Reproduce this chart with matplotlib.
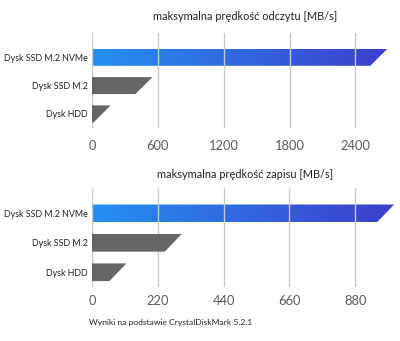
import numpy as np
import matplotlib.pyplot as plt
from matplotlib.patches import Polygon
from matplotlib.colors import LinearSegmentedColormap

plt.rcParams['font.family'] = ['Lato', 'DejaVu Sans']

dyski = ['Dysk SSD M.2 NVMe', 'Dysk SSD M.2', 'Dysk HDD']
odczyt = [2690, 550, 170]
zapis = [1010, 300, 115]
ticks_odczyt = [0, 600, 1200, 1800, 2400]
ticks_zapis = [0, 220, 440, 660, 880]

W, H = 400, 341
fig = plt.figure(figsize=(W / 100, H / 100), dpi=100)

gradient = LinearSegmentedColormap.from_list('nvme', ['#2590f2', '#3d3ecb'])
SLANT = 17  # px, skos na końcu słupka


def wykres(rect, values, ticks, xmax, title, title_y, pad):
    ax = fig.add_axes(rect)
    ax.set_xticks(ticks)
    ax.set_yticks(range(len(values)))
    ax.set_yticklabels(dyski)
    ax.grid(axis='x', color='#c8c8c8', linewidth=1)
    ax.set_axisbelow(True)
    for s in ax.spines.values():
        s.set_visible(False)
    ax.tick_params(length=0)
    ax.tick_params(axis='x', pad=pad, labelsize=9.3, labelcolor='#5a5a5a')
    ax.tick_params(axis='y', pad=3, labelsize=6.4, labelcolor='#222222')

    width_px = rect[2] * W
    skos = SLANT * xmax / width_px
    h = 0.3
    for i, v in enumerate(values):
        pts = [(0, i - h), (v, i - h), (v - skos, i + h), (0, i + h)]
        if i == 0:
            poly = Polygon(pts, closed=True, facecolor='none', edgecolor='none')
            ax.add_patch(poly)
            im = ax.imshow(np.linspace(0, 1, 256).reshape(1, -1), cmap=gradient,
                           extent=[0, v, i + h, i - h], aspect='auto',
                           interpolation='bilinear')
            im.set_clip_path(poly)
        else:
            ax.add_patch(Polygon(pts, closed=True, facecolor='#666666',
                                 edgecolor='none'))
    ax.set_xlim(0, xmax)
    ax.set_ylim(2.5, -0.86)
    fig.text(245 / W, 1 - title_y / H, title, ha='center', va='center',
             fontsize=7.9, color='#222222')
    return ax


wykres([92 / W, 1 - 128 / H, 303 / W, 95 / H], odczyt, ticks_odczyt, 2760,
       'maksymalna prędkość odczytu [MB/s]', 17, 9)
wykres([92 / W, 1 - 287 / H, 303 / W, 99 / H], zapis, ticks_zapis, 1013,
       'maksymalna prędkość zapisu [MB/s]', 174, 6)

fig.text(89 / W, 1 - 322 / H, 'Wyniki na podstawie CrystalDiskMark 5.2.1',
         ha='left', va='center', fontsize=6.1, color='#222222')

fig.savefig('out.png', dpi=100, facecolor='white')
